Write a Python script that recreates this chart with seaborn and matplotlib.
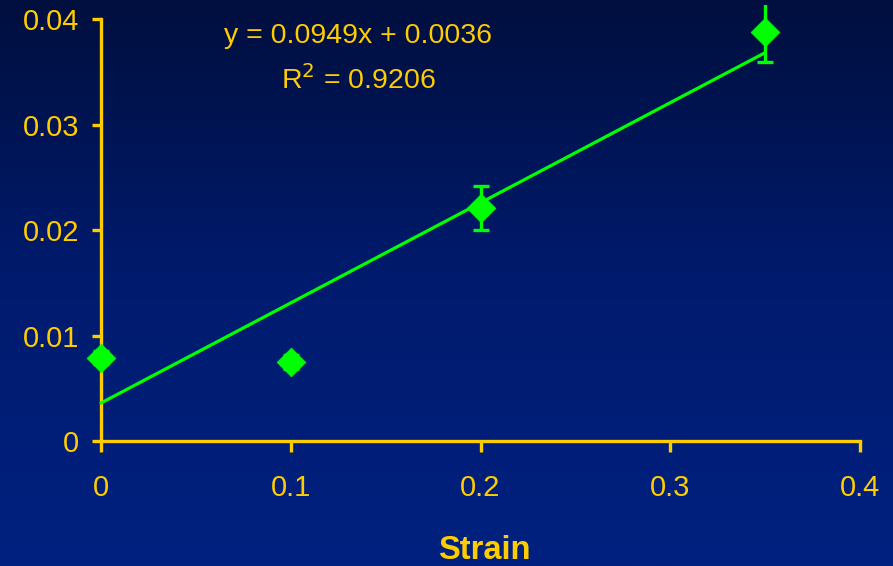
import numpy as np
import matplotlib
matplotlib.use("Agg")
import matplotlib.pyplot as plt
import seaborn as sns
from matplotlib.colors import LinearSegmentedColormap

# Measured strain levels and mean response with error half-widths
strain = [0.0, 0.1, 0.2, 0.35]
response = [0.0079, 0.0075, 0.0221, 0.0388]
error = [0.0006, 0.0007, 0.0021, 0.0029]

# Linear trendline coefficients and fit quality
slope = 0.0949
intercept = 0.0036
r_squared = 0.9206

x_ticks = [0, 0.1, 0.2, 0.3, 0.4]
y_ticks = [0, 0.01, 0.02, 0.03, 0.04]
x_tick_labels = ["0", "0.1", "0.2", "0.3", "0.4"]
y_tick_labels = ["0", "0.01", "0.02", "0.03", "0.04"]

GOLD = "#FFCC00"
GREEN = "#00FF00"

sns.set_theme(style="ticks")
plt.rcParams["font.family"] = ["Liberation Sans", "DejaVu Sans"]

fig = plt.figure(figsize=(8.93, 5.66), dpi=100)

# Vertical navy gradient behind everything
bg = fig.add_axes([0, 0, 1, 1], zorder=0)
cmap = LinearSegmentedColormap.from_list("navy", ["#000F3E", "#001B6E", "#002180"])
bg.imshow(np.linspace(0, 1, 256).reshape(-1, 1), aspect="auto", cmap=cmap,
          extent=[0, 1, 0, 1], origin="upper")
bg.set_axis_off()

ax = fig.add_axes([0.0706, 0.2208, 0.8925, 0.7698], zorder=1)
ax.patch.set_alpha(0)

# Trendline from the stated coefficients
line_x = np.array([0.0, max(strain)])
line_y = slope * line_x + intercept
sns.lineplot(x=line_x, y=line_y, ax=ax, color=GREEN, linewidth=2.3, zorder=3)

# Error bars and diamond markers
ax.errorbar(strain, response, yerr=error, fmt="none", ecolor=GREEN,
            elinewidth=2.4, capsize=5.8, capthick=2.4, zorder=4)
sns.scatterplot(x=strain, y=response, ax=ax, marker="D", s=215, color=GREEN,
                edgecolor=GREEN, linewidth=0.5, zorder=5)

ax.set_xlim(-0.02, 0.4)
ax.set_ylim(0, 0.0413)

for side in ["top", "right"]:
    ax.spines[side].set_visible(False)
for side in ["left", "bottom"]:
    ax.spines[side].set_color(GOLD)
    ax.spines[side].set_linewidth(2.4)
ax.spines["left"].set_position(("data", 0))
ax.spines["left"].set_bounds(0, 0.04)
ax.spines["bottom"].set_bounds(0, 0.4)

ax.set_xticks(x_ticks)
ax.set_xticklabels(x_tick_labels)
ax.set_yticks(y_ticks)
ax.set_yticklabels(y_tick_labels)
ax.tick_params(axis="both", colors=GOLD, labelsize=21, width=2.4,
               direction="out", bottom=True, left=True)
ax.tick_params(axis="x", length=8, pad=16)
ax.tick_params(axis="y", length=6.5, pad=9)
ax.grid(False)

ax.set_xlabel("")
ax.set_ylabel("")
ax.text(0.528, -0.252, "Strain", transform=ax.transAxes, color=GOLD,
        fontsize=23.5, fontweight="bold", ha="center", va="center")

ax.text(0.1354, 0.03839, f"y = {slope}x + {intercept}", color=GOLD, fontsize=20.5,
        ha="center", va="center")
ax.text(0.1354, 0.03422, f"R$^2$ = {r_squared}", color=GOLD, fontsize=20.5,
        ha="center", va="center")

fig.savefig("out.png", dpi=100)
